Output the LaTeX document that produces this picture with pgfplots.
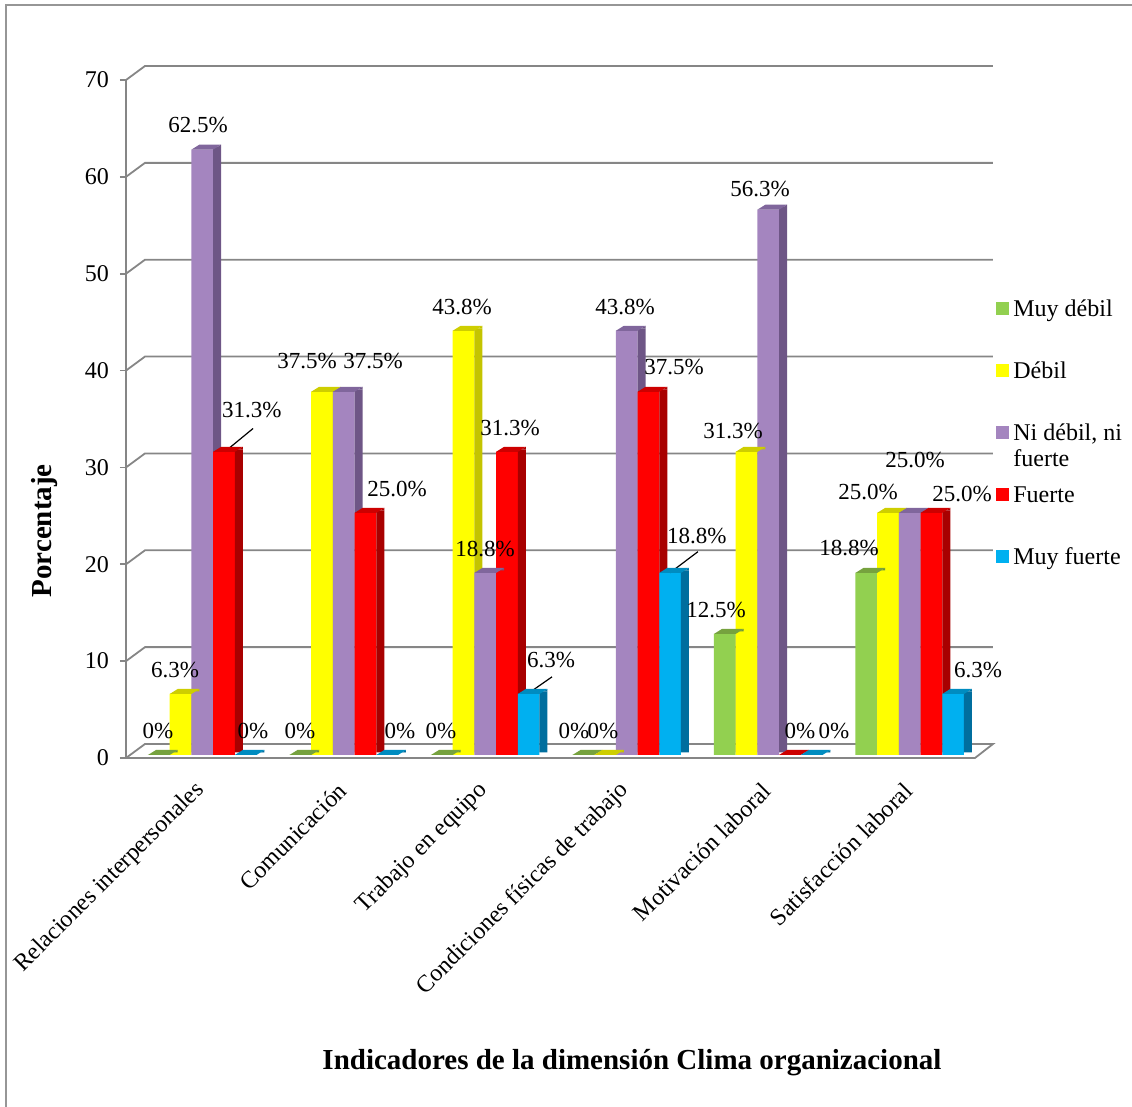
\documentclass[border=0pt]{standalone}
\usepackage{pgfplots}
\pgfplotsset{compat=1.18}
\usepackage{pgfplotstable}
\usepackage{fontspec}
\setmainfont{Liberation Serif}

\definecolor{gridgray}{RGB}{134,134,134}
\definecolor{frameg}{RGB}{150,150,150}
\definecolor{gF}{RGB}{146,208,80}\definecolor{gS}{RGB}{108,150,58}\definecolor{gT}{RGB}{118,162,62}
\definecolor{yF}{RGB}{255,255,0}\definecolor{yS}{RGB}{196,196,0}\definecolor{yT}{RGB}{206,206,0}
\definecolor{pF}{RGB}{164,133,191}\definecolor{pS}{RGB}{110,86,134}\definecolor{pT}{RGB}{128,102,156}
\definecolor{rF}{RGB}{255,0,0}\definecolor{rS}{RGB}{168,0,0}\definecolor{rT}{RGB}{205,0,0}
\definecolor{bF}{RGB}{0,176,240}\definecolor{bS}{RGB}{0,110,158}\definecolor{bT}{RGB}{0,140,192}

% top face of a 3D bar (plus the top corner of its side face), drawn at the bar's data point
\newcommand\decltop[8]{\pgfdeclareplotmark{#1}{%
  \pgfpathmoveto{\pgfqpoint{#6pt}{1.25pt}}%
  \pgfpathlineto{\pgfqpoint{#5pt}{2.5pt}}%
  \pgfpathlineto{\pgfqpoint{#5pt}{1.25pt}}%
  \pgfpathclose\pgfsetfillcolor{#7}\pgfusepath{fill}%
  \pgfpathmoveto{\pgfqpoint{#2pt}{0pt}}%
  \pgfpathlineto{\pgfqpoint{#3pt}{0pt}}%
  \pgfpathlineto{\pgfqpoint{#5pt}{2.5pt}}%
  \pgfpathlineto{\pgfqpoint{#4pt}{2.5pt}}%
  \pgfpathclose\pgfsetfillcolor{#8}\pgfusepath{fill}}}
\decltop{topA}{-24.375}{-13.525}{-20.375}{-9.525}{-11.525}{gS}{gT}
\decltop{topB}{-13.525}{-2.675}{-9.525}{1.325}{-0.675}{yS}{yT}
\decltop{topC}{-2.675}{8.175}{1.325}{12.175}{10.175}{pS}{pT}
\decltop{topD}{8.175}{19.025}{12.175}{23.025}{21.025}{rS}{rT}
\decltop{topE}{19.025}{29.875}{23.025}{33.875}{31.875}{bS}{bT}

\pgfplotstableread{
x M D N F MF
0 0 6.3 62.5 31.3 0
1 0 37.5 37.5 25.0 0
2 0 43.8 18.8 31.3 6.3
3 0 0 43.8 37.5 18.8
4 12.5 31.3 56.3 0 0
5 18.8 25.0 25.0 25.0 6.3
}\datatable

\pgfplotsset{
  front/.style n args={2}{ybar, bar width=10.85pt, bar shift=#1pt, fill=#2, draw=none, yshift=1.5pt},
  side/.style n args={2}{ybar, bar width=4pt, bar shift=#1pt, fill=#2, draw=none, yshift=2.75pt},
  topf/.style={only marks, mark=#1, yshift=1.5pt},
}
\tikzset{lbl/.style={font=\fontsize{11.5}{13}\selectfont, inner sep=0pt, anchor=center}}

\begin{document}
\begin{tikzpicture}
\useasboundingbox (-63pt,-174.5pt) rectangle (503pt,379pt);
\draw[frameg, line width=0.8pt] (-60pt,-174.5pt) -- (-60pt,376.5pt) -- (503pt,376.5pt);
\begin{axis}[
  at={(0,0)}, anchor=south west,
  scale only axis, width=424.5pt, height=339pt,
  xmin=-0.5, xmax=5.5, ymin=0, ymax=70,
  clip=false,
  axis line style={draw=none},
  /pgf/number format/assume math mode=true,
  xtick={0,...,5},
  xticklabels={Relaciones interpersonales, Comunicación, Trabajo en equipo, Condiciones físicas de trabajo, Motivación laboral, Satisfacción laboral},
  xtick style={draw=none},
  xticklabel style={xshift=4.5pt, yshift=-9pt, rotate=45, anchor=east, font=\fontsize{12}{14}\selectfont},
  ytick={0,10,20,30,40,50,60,70},
  ytick pos=left, xtick pos=bottom,
  tick align=outside, major tick length=3pt,
  ytick style={gridgray, line width=0.9pt},
  yticklabel style={font=\fontsize{12}{14}\selectfont, xshift=-2pt},
  ylabel={\textbf{Porcentaje}},
  ylabel style={at={(axis description cs:-0.0954,0.335)}, anchor=center, font=\fontsize{14.5}{16}\selectfont},
  xlabel={\textbf{Indicadores de la dimensión Clima organizacional}},
  xlabel style={at={(axis description cs:0.596,-0.45)}, anchor=center, font=\fontsize{14.5}{16}\selectfont},
]
% back wall grid lines
\pgfplotsinvokeforeach{10,20,30,40,50,60,70}{
  \draw[gridgray, line width=0.9pt] (axis cs:-0.5,#1) -- ++(9.5pt,7pt) -- ([shift={(9pt,7pt)}]axis cs:5.5,#1);
}
\draw[gridgray, line width=0.9pt] (axis cs:-0.5,0) -- (axis cs:-0.5,70);
\filldraw[fill=white, draw=gridgray, line width=0.9pt] (axis cs:-0.5,0) -- (axis cs:5.5,0) -- ([shift={(9pt,7pt)}]axis cs:5.5,0) -- ([shift={(9.5pt,7pt)}]axis cs:-0.5,0) -- cycle;
\draw[gridgray, line width=1.3pt] (axis cs:-0.5,0) -- (axis cs:5.5,0);

\addplot[front={-18.95}{gF}] table[x=x,y=M] {\datatable};
\addplot[side={-11.525}{gS}] table[x=x,y=M] {\datatable};
\addplot[topf=topA] table[x=x,y=M] {\datatable};
\addplot[front={-8.1}{yF}] table[x=x,y=D] {\datatable};
\addplot[side={-0.675}{yS}] table[x=x,y=D] {\datatable};
\addplot[topf=topB] table[x=x,y=D] {\datatable};
\addplot[front={2.75}{pF}] table[x=x,y=N] {\datatable};
\addplot[side={10.175}{pS}] table[x=x,y=N] {\datatable};
\addplot[topf=topC] table[x=x,y=N] {\datatable};
\addplot[front={13.6}{rF}] table[x=x,y=F] {\datatable};
\addplot[side={21.025}{rS}] table[x=x,y=F] {\datatable};
\addplot[topf=topD] table[x=x,y=F] {\datatable};
\addplot[front={24.45}{bF}] table[x=x,y=MF] {\datatable};
\addplot[side={31.875}{bS}] table[x=x,y=MF] {\datatable};
\addplot[topf=topE] table[x=x,y=MF] {\datatable};

% leader lines
\draw[black, line width=0.6pt] (axis cs:0.2,31.64) -- (axis cs:0.398,34.02);
\draw[black, line width=0.6pt] (axis cs:2.348,6.72) -- (axis cs:2.511,8.38);
\draw[black, line width=0.6pt] (axis cs:3.345,19.13) -- (axis cs:3.542,21.30);

% data labels
\node[lbl] at (axis cs:-0.274,2.79) {0\%};
\node[lbl] at (axis cs:-0.154,9.10) {6.3\%};
\node[lbl] at (axis cs:0.009,65.35) {62.5\%};
\node[lbl] at (axis cs:0.390,35.88) {31.3\%};
\node[lbl] at (axis cs:0.398,2.79) {0\%};
\node[lbl] at (axis cs:0.730,2.79) {0\%};
\node[lbl] at (axis cs:0.779,40.95) {37.5\%};
\node[lbl] at (axis cs:1.246,40.95) {37.5\%};
\node[lbl] at (axis cs:1.415,27.81) {25.0\%};
\node[lbl] at (axis cs:1.436,2.79) {0\%};
\node[lbl] at (axis cs:1.726,2.79) {0\%};
\node[lbl] at (axis cs:1.875,46.53) {43.8\%};
\node[lbl] at (axis cs:2.037,21.61) {18.8\%};
\node[lbl] at (axis cs:2.214,34.12) {31.3\%};
\node[lbl] at (axis cs:2.504,10.13) {6.3\%};
\node[lbl] at (axis cs:2.666,2.79) {0\%};
\node[lbl] at (axis cs:2.871,2.79) {0\%};
\node[lbl] at (axis cs:3.027,46.53) {43.8\%};
\node[lbl] at (axis cs:3.373,40.33) {37.5\%};
\node[lbl] at (axis cs:3.535,22.96) {18.8\%};
\node[lbl] at (axis cs:3.670,15.30) {12.5\%};
\node[lbl] at (axis cs:3.790,33.71) {31.3\%};
\node[lbl] at (axis cs:3.981,58.73) {56.3\%};
\node[lbl] at (axis cs:4.263,2.79) {0\%};
\node[lbl] at (axis cs:4.504,2.79) {0\%};
\node[lbl] at (axis cs:4.610,21.71) {18.8\%};
\node[lbl] at (axis cs:4.744,27.50) {25.0\%};
\node[lbl] at (axis cs:5.076,30.81) {25.0\%};
\node[lbl] at (axis cs:5.408,27.30) {25.0\%};
\node[lbl] at (axis cs:5.521,9.10) {6.3\%};
\end{axis}

% legend
\begin{scope}[every node/.style={font=\fontsize{12}{13}\selectfont, inner sep=0pt, anchor=base west}]
\fill[gF] (435pt,221.5pt) rectangle ++(6.5pt,6.5pt);
\node at (443.5pt,220.5pt) {Muy débil};
\fill[yF] (435pt,190.5pt) rectangle ++(6.5pt,6.5pt);
\node at (443.5pt,189.5pt) {Débil};
\fill[pF] (435pt,159.5pt) rectangle ++(6.5pt,6.5pt);
\node at (443.5pt,158.5pt) {Ni débil, ni};
\node at (443.5pt,145.5pt) {fuerte};
\fill[rF] (435pt,128.5pt) rectangle ++(6.5pt,6.5pt);
\node at (443.5pt,127.5pt) {Fuerte};
\fill[bF] (435pt,97.5pt) rectangle ++(6.5pt,6.5pt);
\node at (443.5pt,96.5pt) {Muy fuerte};
\end{scope}
\end{tikzpicture}
\end{document}
